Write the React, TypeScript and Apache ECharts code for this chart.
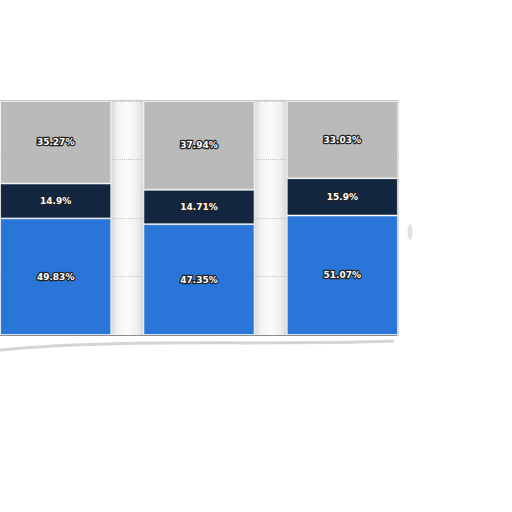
import { useEffect, useRef } from "react"
import * as echarts from "echarts"

const categories = ["A", "B", "C"]
const blueValues = [49.83, 47.35, 51.07]
const navyValues = [14.9, 14.71, 15.9]
const grayValues = [35.27, 37.94, 33.03]
const seriesNames = ["Blue", "Navy", "Gray"]
const seriesColors = ["#2a76d8", "#12263f", "#bababa"]

// the chart div starts 16px left of the page so the first bar is flush with the edge
const SHIFT = 16

export default function App() {
    const chartRef = useRef<HTMLDivElement>(null)

    useEffect(() => {
        if (!chartRef.current) return
        const chart = echarts.init(chartRef.current, null, { renderer: "svg" })

        const label = {
            show: true,
            position: "inside" as const,
            formatter: (p: any) => `${p.value}%`,
            color: "#ffffff",
            fontFamily: "DejaVu Sans",
            fontWeight: "bold" as const,
            fontSize: 9,
            textBorderColor: "#222222",
            textBorderWidth: 2.5,
        }

        const makeSeries = (name: string, data: number[], color: string) => ({
            name,
            type: "bar" as const,
            stack: "total",
            barWidth: 111,
            data,
            label,
            itemStyle: {
                color,
                borderColor: "rgba(255,255,255,0.8)",
                borderWidth: 0.8,
            },
        })

        chart.setOption({
            animation: false,
            backgroundColor: "#ffffff",
            grid: {
                left: 0,
                width: 430,
                top: 101,
                bottom: 177,
            },
            xAxis: {
                type: "category",
                data: categories,
                axisLine: { show: false },
                axisTick: { show: false },
                axisLabel: { show: false },
            },
            yAxis: {
                type: "value",
                min: 0,
                max: 100,
                interval: 25,
                axisLabel: { show: false },
                axisLine: { show: false },
                axisTick: { show: false },
                splitLine: { lineStyle: { type: "dotted", color: "#c4c4c4" } },
            },
            series: [
                makeSeries(seriesNames[0], blueValues, seriesColors[0]),
                makeSeries(seriesNames[1], navyValues, seriesColors[1]),
                makeSeries(seriesNames[2], grayValues, seriesColors[2]),
            ],
        })

        // pillar shading in the gaps between bars, plus frame and shadow
        const half = 111 / 2
        const graphics: any[] = []
        for (let i = 0; i < categories.length - 1; i++) {
            const c1 = chart.convertToPixel({ xAxisIndex: 0 }, i) as number
            const c2 = chart.convertToPixel({ xAxisIndex: 0 }, i + 1) as number
            const x0 = c1 + half
            const w = c2 - half - x0
            graphics.push({
                type: "rect",
                z: -10,
                silent: true,
                shape: { x: x0, y: 101, width: w, height: 234 },
                style: {
                    fill: new echarts.graphic.LinearGradient(0, 0, 1, 0, [
                        { offset: 0, color: "#dadada" },
                        { offset: 0.2, color: "#f3f3f3" },
                        { offset: 0.5, color: "#fcfcfc" },
                        { offset: 0.8, color: "#efefef" },
                        { offset: 1, color: "#d8d8d8" },
                    ]),
                },
            })
        }
        // hide split lines right of the frame
        graphics.push({
            type: "rect",
            z: 50,
            shape: { x: 398.5 + SHIFT, y: 95, width: 40, height: 245 },
            style: { fill: "#ffffff" },
        })
        graphics.push({
            type: "rect",
            z: 100,
            shape: { x: -4 + SHIFT, y: 100.5, width: 402, height: 235 },
            style: {
                fill: "none",
                stroke: "#c9c9c9",
                lineWidth: 1.2,
            },
        })
        graphics.push({
            type: "line",
            z: 101,
            shape: { x1: 0 + SHIFT, y1: 335.5, x2: 397 + SHIFT, y2: 335.5 },
            style: { stroke: "#8c8c8c", lineWidth: 1 },
        })
        graphics.push({
            type: "bezierCurve",
            z: 100,
            shape: {
                x1: 0 + SHIFT, y1: 350,
                x2: 394 + SHIFT, y2: 341,
                cpx1: 120 + SHIFT, cpy1: 338,
                cpx2: 260 + SHIFT, cpy2: 346,
            },
            style: { stroke: "#d4d4d4", lineWidth: 3, fill: "none" },
        })
        graphics.push({
            type: "ellipse",
            z: 100,
            shape: { cx: 410 + SHIFT, cy: 232, rx: 2.5, ry: 8 },
            style: { fill: "#e4e4e4" },
        })
        chart.setOption({ graphic: graphics })

        return () => {
            chart.dispose()
        }
    }, [])

    return (
        <div
            ref={chartRef}
            style={{ position: "fixed", left: -SHIFT, top: 0, width: 512 + SHIFT, height: 512 }}
        />
    )
}
